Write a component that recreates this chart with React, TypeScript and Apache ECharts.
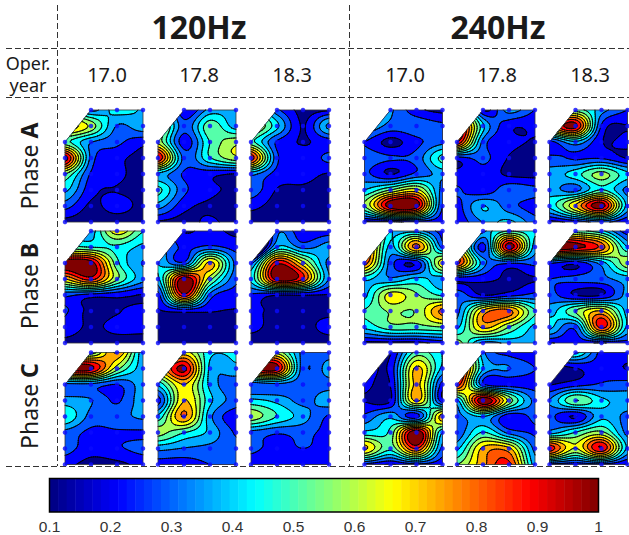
import React, { useEffect, useRef } from "react";
import * as echarts from "echarts";

const FONT = '"Noto Sans", "Open Sans", sans-serif';
const frequencies = ["120Hz", "240Hz"];
const operYears = ["17.0", "17.8", "18.3"];
const phases = ["A", "B", "C"];
const levels = [0.175, 0.25, 0.325, 0.4, 0.475, 0.55, 0.625, 0.7, 0.775, 0.85, 0.925];
const N = null;

// Sensor values: 8 rows of 4 columns; two top-left sensors do not exist.
const a120y170 = [[N,.3,.44,.39],[N,.6,.32,.38],[.5,.33,.27,.2],[.97,.3,.2,.15],[.55,.24,.2,.13],[.42,.2,.17,.14],[.28,.16,.21,.15],[.14,.12,.12,.12]];
const a120y178 = [[N,.18,.35,.36],[N,.28,.52,.36],[.6,.21,.48,.6],[.93,.3,.47,.6],[.38,.24,.2,.17],[.5,.27,.2,.15],[.36,.2,.16,.13],[.16,.14,.19,.13]];
const a120y183 = [[N,.27,.15,.16],[N,.42,.17,.42],[.5,.24,.17,.21],[.9,.27,.2,.27],[.35,.22,.2,.17],[.3,.17,.16,.15],[.2,.14,.13,.17],[.12,.12,.12,.12]];
const b120y170 = [[N,.36,.68,.48],[N,.47,.46,.38],[1,.97,.5,.32],[.7,.88,.56,.35],[.27,.22,.2,.17],[.26,.15,.17,.2],[.22,.16,.2,.2],[.15,.13,.13,.13]];
const b120y178 = [[N,.17,.2,.15],[N,.23,.27,.22],[.4,.27,.72,.3],[.38,.98,.58,.27],[.22,.9,.3,.21],[.17,.2,.18,.17],[.15,.14,.14,.14],[.12,.12,.12,.12]];
const b120y183 = [[N,.3,.18,.2],[N,.4,.3,.36],[.3,.9,.65,.3],[.42,.97,.85,.32],[.24,.18,.18,.17],[.2,.15,.15,.15],[.2,.14,.14,.21],[.12,.12,.12,.12]];
const c120y170 = [[N,.5,.78,.35],[N,.95,.58,.36],[.3,.3,.25,.36],[.36,.33,.24,.37],[.47,.3,.3,.34],[.3,.23,.24,.24],[.28,.21,.24,.27],[.2,.14,.15,.2]];
const c120y178 = [[N,.65,.42,.42],[N,.95,.38,.38],[.42,.7,.38,.27],[.22,.7,.42,.29],[.42,.78,.35,.2],[.58,.48,.38,.24],[.35,.32,.3,.27],[.2,.2,.25,.27]];
const c120y183 = [[N,.6,.3,.28],[N,.95,.28,.36],[.27,.3,.28,.3],[.42,.38,.3,.37],[.6,.47,.36,.24],[.3,.26,.27,.23],[.27,.22,.25,.22],[.2,.18,.18,.18]];
const a240y170 = [[N,.34,.2,.15],[N,.3,.3,.27],[.25,.15,.23,.3],[.3,.26,.28,.5],[.27,.17,.27,.35],[.4,.55,.65,.3],[.55,.98,.97,.25],[.15,.15,.2,.2]];
const a240y178 = [[N,.17,.36,.25],[N,.42,.2,.19],[.93,.3,.2,.17],[.22,.27,.17,.15],[.2,.22,.16,.15],[.26,.2,.3,.27],[.22,.4,.28,.22],[.2,.33,.42,.28]];
const a240y183 = [[N,.5,.36,.25],[N,.95,.24,.17],[.22,.38,.18,.2],[.27,.24,.24,.17],[.36,.44,.58,.42],[.36,.3,.48,.3],[.42,.7,.97,.37],[.15,.2,.27,.18]];
const b240y170 = [[N,.42,.36,.22],[N,.38,.8,.3],[.82,.29,.2,.68],[.42,.34,.42,.36],[.38,.66,.56,.46],[.48,.56,.56,.8],[.42,.52,.52,.55],[.15,.15,.15,.2]];
const b240y178 = [[N,.42,.47,.42],[N,.22,.97,.36],[.88,.36,.26,.27],[.2,.2,.16,.17],[.3,.17,.22,.27],[.3,.72,.8,.48],[.38,.72,.55,.38],[.6,.3,.35,.38]];
const b240y183 = [[N,.5,.42,.2],[N,.96,.82,.4],[.26,.2,.36,.6],[.25,.27,.3,.36],[.28,.17,.17,.35],[.36,.55,.7,.37],[.42,.28,.88,.38],[.17,.2,.17,.22]];
const c240y170 = [[N,.17,.5,.4],[N,.2,.72,.38],[.2,.18,.72,.22],[.17,.17,.72,.2],[.27,.38,.22,.75],[.42,.5,1,.4],[.72,.5,.85,.3],[.22,.17,.22,.2]];
const c240y178 = [[N,.35,.22,.2],[N,.4,.33,.25],[.9,.27,.22,.22],[.38,1,.6,.3],[.3,.4,.2,.27],[.27,.48,.3,.24],[.38,.72,.72,.3],[.55,.75,.88,.36]];
const c240y183 = [[N,.5,.22,.22],[N,.17,.22,.17],[.17,.22,.26,.28],[.33,.55,.42,.37],[.27,.17,.38,.3],[.36,.48,.57,.3],[.9,.62,.92,.38],[.22,.2,.22,.17]];

const panelData = [
  [a120y170, a120y178, a120y183, a240y170, a240y178, a240y183],
  [b120y170, b120y178, b120y183, b240y170, b240y178, b240y183],
  [c120y170, c120y178, c120y183, c240y170, c240y178, c240y183],
];

const panelLeft = [65, 158, 251, 364.5, 457, 549.5];
const panelTop = [110, 231, 352.5];
const panelW = 78;
const panelH = 112;

const cl = (x: number) => Math.max(0, Math.min(1, x));
function jet(t: number) {
  const r = cl(1.5 - Math.abs(4 * t - 3));
  const g = cl(1.5 - Math.abs(4 * t - 2));
  const b = cl(1.5 - Math.abs(4 * t - 1));
  return `rgb(${Math.round(r * 255)},${Math.round(g * 255)},${Math.round(b * 255)})`;
}
const valueT = (v: number) => (v - 0.1) / 0.9;

function bandColor(i: number) {
  if (i === 0) return jet(0.005);
  if (i === levels.length) return jet(1);
  return jet(valueT((levels[i - 1] + levels[i]) / 2));
}

// supply the sensor-free corner only so the drawing surface has support there
function completed(g: (number | null)[][]) {
  const m = g.map((r) => r.slice()) as number[][];
  m[1][0] = m[2][0] + m[1][1] - m[2][1];
  m[0][0] = m[1][0] + m[0][1] - m[1][1];
  return m;
}

function cr(p0: number, p1: number, p2: number, p3: number, t: number) {
  return 0.5 * (2 * p1 + (p2 - p0) * t + (2 * p0 - 5 * p1 + 4 * p2 - p3) * t * t + (3 * p1 - p0 - 3 * p2 + p3) * t * t * t);
}
function sample(m: number[][], c: number, r: number) {
  const at = (j: number, i: number) => {
    const jj = j < 0 ? 0 : j > 7 ? 7 : j;
    const ii = i < 0 ? 0 : i > 3 ? 3 : i;
    let v = m[jj][ii];
    if (j < 0) v = 2 * m[0][ii] - m[1][ii];
    if (j > 7) v = 2 * m[7][ii] - m[6][ii];
    return v;
  };
  const i0 = Math.min(2, Math.floor(c));
  const j0 = Math.min(6, Math.floor(r));
  const tx = c - i0;
  const ty = r - j0;
  const rows = [-1, 0, 1, 2].map((d) => cr(at(j0 + d, i0 - 1), at(j0 + d, i0), at(j0 + d, i0 + 1), at(j0 + d, i0 + 2), tx));
  return cr(rows[0], rows[1], rows[2], rows[3], ty);
}

type V = [number, number, number];
function clipBy(poly: V[], f: (p: V) => number): V[] {
  const out: V[] = [];
  for (let k = 0; k < poly.length; k++) {
    const a = poly[k];
    const b = poly[(k + 1) % poly.length];
    const fa = f(a);
    const fb = f(b);
    if (fa >= 0) out.push(a);
    if ((fa >= 0) !== (fb >= 0)) {
      const t = fa / (fa - fb);
      out.push([a[0] + (b[0] - a[0]) * t, a[1] + (b[1] - a[1]) * t, a[2] + (b[2] - a[2]) * t]);
    }
  }
  return out;
}
const DIV_C = 12;
const DIV_R = 8;

function buildPanel(grid: (number | null)[][], api: any) {
  const m = completed(grid);
  const nc = 3 * DIV_C;
  const nr = 7 * DIV_R;
  const o = api.coord([0, 0]);
  const e = api.coord([3, 7]);
  const sx = (e[0] - o[0]) / 3;
  const sy = (e[1] - o[1]) / 7;
  const X = (c: number) => (o[0] + c * sx).toFixed(2);
  const Y = (r: number) => (o[1] + r * sy).toFixed(2);
  const val: number[][] = [];
  for (let j = 0; j <= nr; j++) {
    const row: number[] = [];
    for (let i = 0; i <= nc; i++) row.push(sample(m, i / DIV_C, j / DIV_R));
    val.push(row);
  }
  const diag = (p: V) => p[1] + 2 * p[0] - 2;
  const polyPath = (p: V[]) => "M" + p.map((q) => X(q[0]) + " " + Y(q[1])).join("L") + "Z";
  const children: any[] = [];
  const lines: string[] = [];
  for (let li = 0; li <= levels.length; li++) {
    const L = li === 0 ? -99 : levels[li - 1];
    const fill: string[] = [];
    const line: string[] = [];
    for (let j = 0; j < nr; j++) {
      let runStart = -1;
      for (let i = 0; i <= nc; i++) {
        let full = false;
        if (i < nc) {
          const c0 = i / DIV_C, c1 = (i + 1) / DIV_C, r0 = j / DIV_R, r1 = (j + 1) / DIV_R;
          const v = [val[j][i], val[j][i + 1], val[j + 1][i + 1], val[j + 1][i]];
          const inAll = r0 + 2 * c0 - 2 >= 0;
          const outAll = r1 + 2 * c1 - 2 < 0;
          full = inAll && v.every((x) => x >= L);
          if (!full && !outAll) {
            const a: V = [c0, r0, v[0]], b: V = [c1, r0, v[1]], c: V = [c1, r1, v[2]], d: V = [c0, r1, v[3]];
            for (const tri of [[a, b, c], [a, c, d]] as V[][]) {
              const p = inAll ? tri : clipBy(tri, diag);
              if (p.length < 3) continue;
              const f = clipBy(p, (q) => q[2] - L);
              if (f.length >= 3) fill.push(polyPath(f));
              if (li > 0) {
                const pts: V[] = [];
                for (let k = 0; k < p.length; k++) {
                  const s = p[k], t = p[(k + 1) % p.length];
                  const fs = s[2] - L, ft = t[2] - L;
                  if ((fs >= 0) !== (ft >= 0)) {
                    const u = fs / (fs - ft);
                    pts.push([s[0] + (t[0] - s[0]) * u, s[1] + (t[1] - s[1]) * u, L]);
                  }
                }
                if (pts.length === 2) line.push(`M${X(pts[0][0])} ${Y(pts[0][1])}L${X(pts[1][0])} ${Y(pts[1][1])}`);
              }
            }
          }
        }
        if (full && runStart < 0) runStart = i;
        if (!full && runStart >= 0) {
          const a = X(runStart / DIV_C), b = X(i / DIV_C), t = Y(j / DIV_R), u = Y((j + 1) / DIV_R);
          fill.push(`M${a} ${t}L${b} ${t}L${b} ${u}L${a} ${u}Z`);
          runStart = -1;
        }
      }
    }
    if (fill.length) {
      children.push({ type: "path", silent: true, shape: { pathData: fill.join("") }, style: { fill: bandColor(li), stroke: null } });
    }
    if (line.length) lines.push(line.join(""));
  }
  lines.forEach((d) => {
    children.push({ type: "path", silent: true, shape: { pathData: d }, style: { fill: null, stroke: "#000", lineWidth: 0.9, lineCap: "round", lineJoin: "round" } });
  });
  const outline = `M${X(1)} ${Y(0)}L${X(3)} ${Y(0)}L${X(3)} ${Y(7)}L${X(0)} ${Y(7)}L${X(0)} ${Y(2)}Z`;
  children.push({ type: "path", silent: true, shape: { pathData: outline }, style: { fill: null, stroke: "#333", lineWidth: 0.8 } });
  return { type: "group", children };
}

function buildOption() {
  const grids: any[] = [];
  const xAxis: any[] = [];
  const yAxis: any[] = [];
  const series: any[] = [];
  panelData.forEach((rowPanels, ri) => {
    rowPanels.forEach((grid, ci) => {
      const idx = grids.length;
      grids.push({ left: panelLeft[ci], top: panelTop[ri], width: panelW, height: panelH, containLabel: false });
      xAxis.push({ type: "value", gridIndex: idx, min: 0, max: 3, show: false });
      yAxis.push({ type: "value", gridIndex: idx, min: 0, max: 7, inverse: true, show: false });
      const sensors: number[][] = [];
      grid.forEach((row, r) => row.forEach((v, c) => { if (v !== null) sensors.push([c, r, v as number]); }));
      series.push({
        type: "custom", xAxisIndex: idx, yAxisIndex: idx, silent: true, z: 2, clip: false, data: sensors,
        renderItem: (params: any, api: any) => (params.dataIndex === 0 ? buildPanel(grid, api) : { type: "group", children: [] }),
      });
      series.push({
        type: "scatter", xAxisIndex: idx, yAxisIndex: idx, silent: true, z: 3, clip: false,
        symbolSize: 4.5, itemStyle: { color: "#0a0aff" }, data: sensors,
      });
    });
  });
  // colour bar
  const cbIdx = grids.length;
  grids.push({ left: 49.5, top: 478.5, width: 549, height: 33.5, show: true, borderColor: "#000", borderWidth: 1.5, backgroundColor: "transparent", z: 5 });
  xAxis.push({
    type: "value", gridIndex: cbIdx, min: 0.1, max: 1, interval: 0.1, position: "bottom",
    axisLine: { show: false }, splitLine: { show: false },
    axisTick: { show: true, inside: true, length: 3, lineStyle: { color: "#000", width: 1 } },
    axisLabel: { show: true, margin: 6, fontSize: 15.5, lineHeight: 16, fontFamily: '"Liberation Sans", Arial, sans-serif', color: "#333", formatter: (v: number) => String(+v.toFixed(1)) },
  });
  yAxis.push({ type: "value", gridIndex: cbIdx, min: 0, max: 1, show: false });
  xAxis.push({
    type: "value", gridIndex: cbIdx, min: 0.1, max: 1, interval: 0.1, position: "top",
    axisLine: { show: false }, splitLine: { show: false }, axisLabel: { show: false },
    axisTick: { show: true, inside: true, length: 3, lineStyle: { color: "#000", width: 1 } },
  });
  const steps = Array.from({ length: 64 }, (_, i) => [i]);
  series.push({
    type: "custom", xAxisIndex: cbIdx, yAxisIndex: cbIdx, silent: true, z: 1, clip: false, data: steps,
    renderItem: (_: any, api: any) => {
      const i = api.value(0);
      const a = api.coord([0.1 + (0.9 * i) / 64, 1]);
      const b = api.coord([0.1 + (0.9 * (i + 1)) / 64, 0]);
      return { type: "rect", silent: true, shape: { x: a[0], y: a[1], width: b[0] - a[0] + 0.5, height: b[1] - a[1] }, style: { fill: jet((i + 0.5) / 64) } };
    },
  });

  const dash = { stroke: "#333", lineWidth: 1, lineDash: [6, 3] };
  const hl = (y: number) => ({ type: "line", shape: { x1: 6, y1: y, x2: 629, y2: y }, style: dash, z: 10 });
  const vl = (x: number) => ({ type: "line", shape: { x1: x, y1: 5, x2: x, y2: 466 }, style: dash, z: 10 });
  const text = (t: string, x: number, y: number, fontSize: number, fontWeight: any = "normal") => ({
    type: "text", x, y, z: 10,
    style: { text: t, x: 0, y: 0, align: "center", verticalAlign: "middle", fontSize, lineHeight: fontSize, fontWeight, fontFamily: FONT, fill: "#1a1a1a" },
  });
  const yearX = [107, 199, 292, 405, 497, 590];
  const elements: any[] = [
    hl(48.5), hl(97.5), hl(466.5), vl(57.5), vl(349.5),
    text(frequencies[0], 199, 26, 32, "bold"),
    text(frequencies[1], 498, 26, 32, "bold"),
    text("Oper.", 28, 63, 18),
    text("year", 28, 85, 18),
  ];
  [0, 1].forEach((f) => operYears.forEach((y, i) => elements.push(text(y, yearX[f * 3 + i], 74, 20))));
  const phaseY = [166, 286, 406];
  phases.forEach((p, i) => {
    elements.push({
      type: "text", x: 29, y: phaseY[i], rotation: Math.PI / 2, z: 10,
      style: {
        text: `{p|Phase }{b|${p}}`, align: "center", verticalAlign: "middle", fill: "#1a1a1a",
        rich: {
          p: { fontSize: 23, fontFamily: FONT, fontWeight: "normal", fill: "#1a1a1a" },
          b: { fontSize: 23, fontFamily: FONT, fontWeight: "bold", fill: "#1a1a1a" },
        },
      },
    });
  });
  return { animation: false, backgroundColor: "#fff", grid: grids, xAxis, yAxis, series, graphic: { elements } };
}

export default function App() {
  const ref = useRef<HTMLDivElement>(null);
  useEffect(() => {
    const chart = echarts.init(ref.current!, undefined, { renderer: "svg" });
    chart.setOption(buildOption());
    return () => chart.dispose();
  }, []);
  return <div ref={ref} style={{ position: "fixed", left: 0, top: 0, width: 629, height: 535 }} />;
}
